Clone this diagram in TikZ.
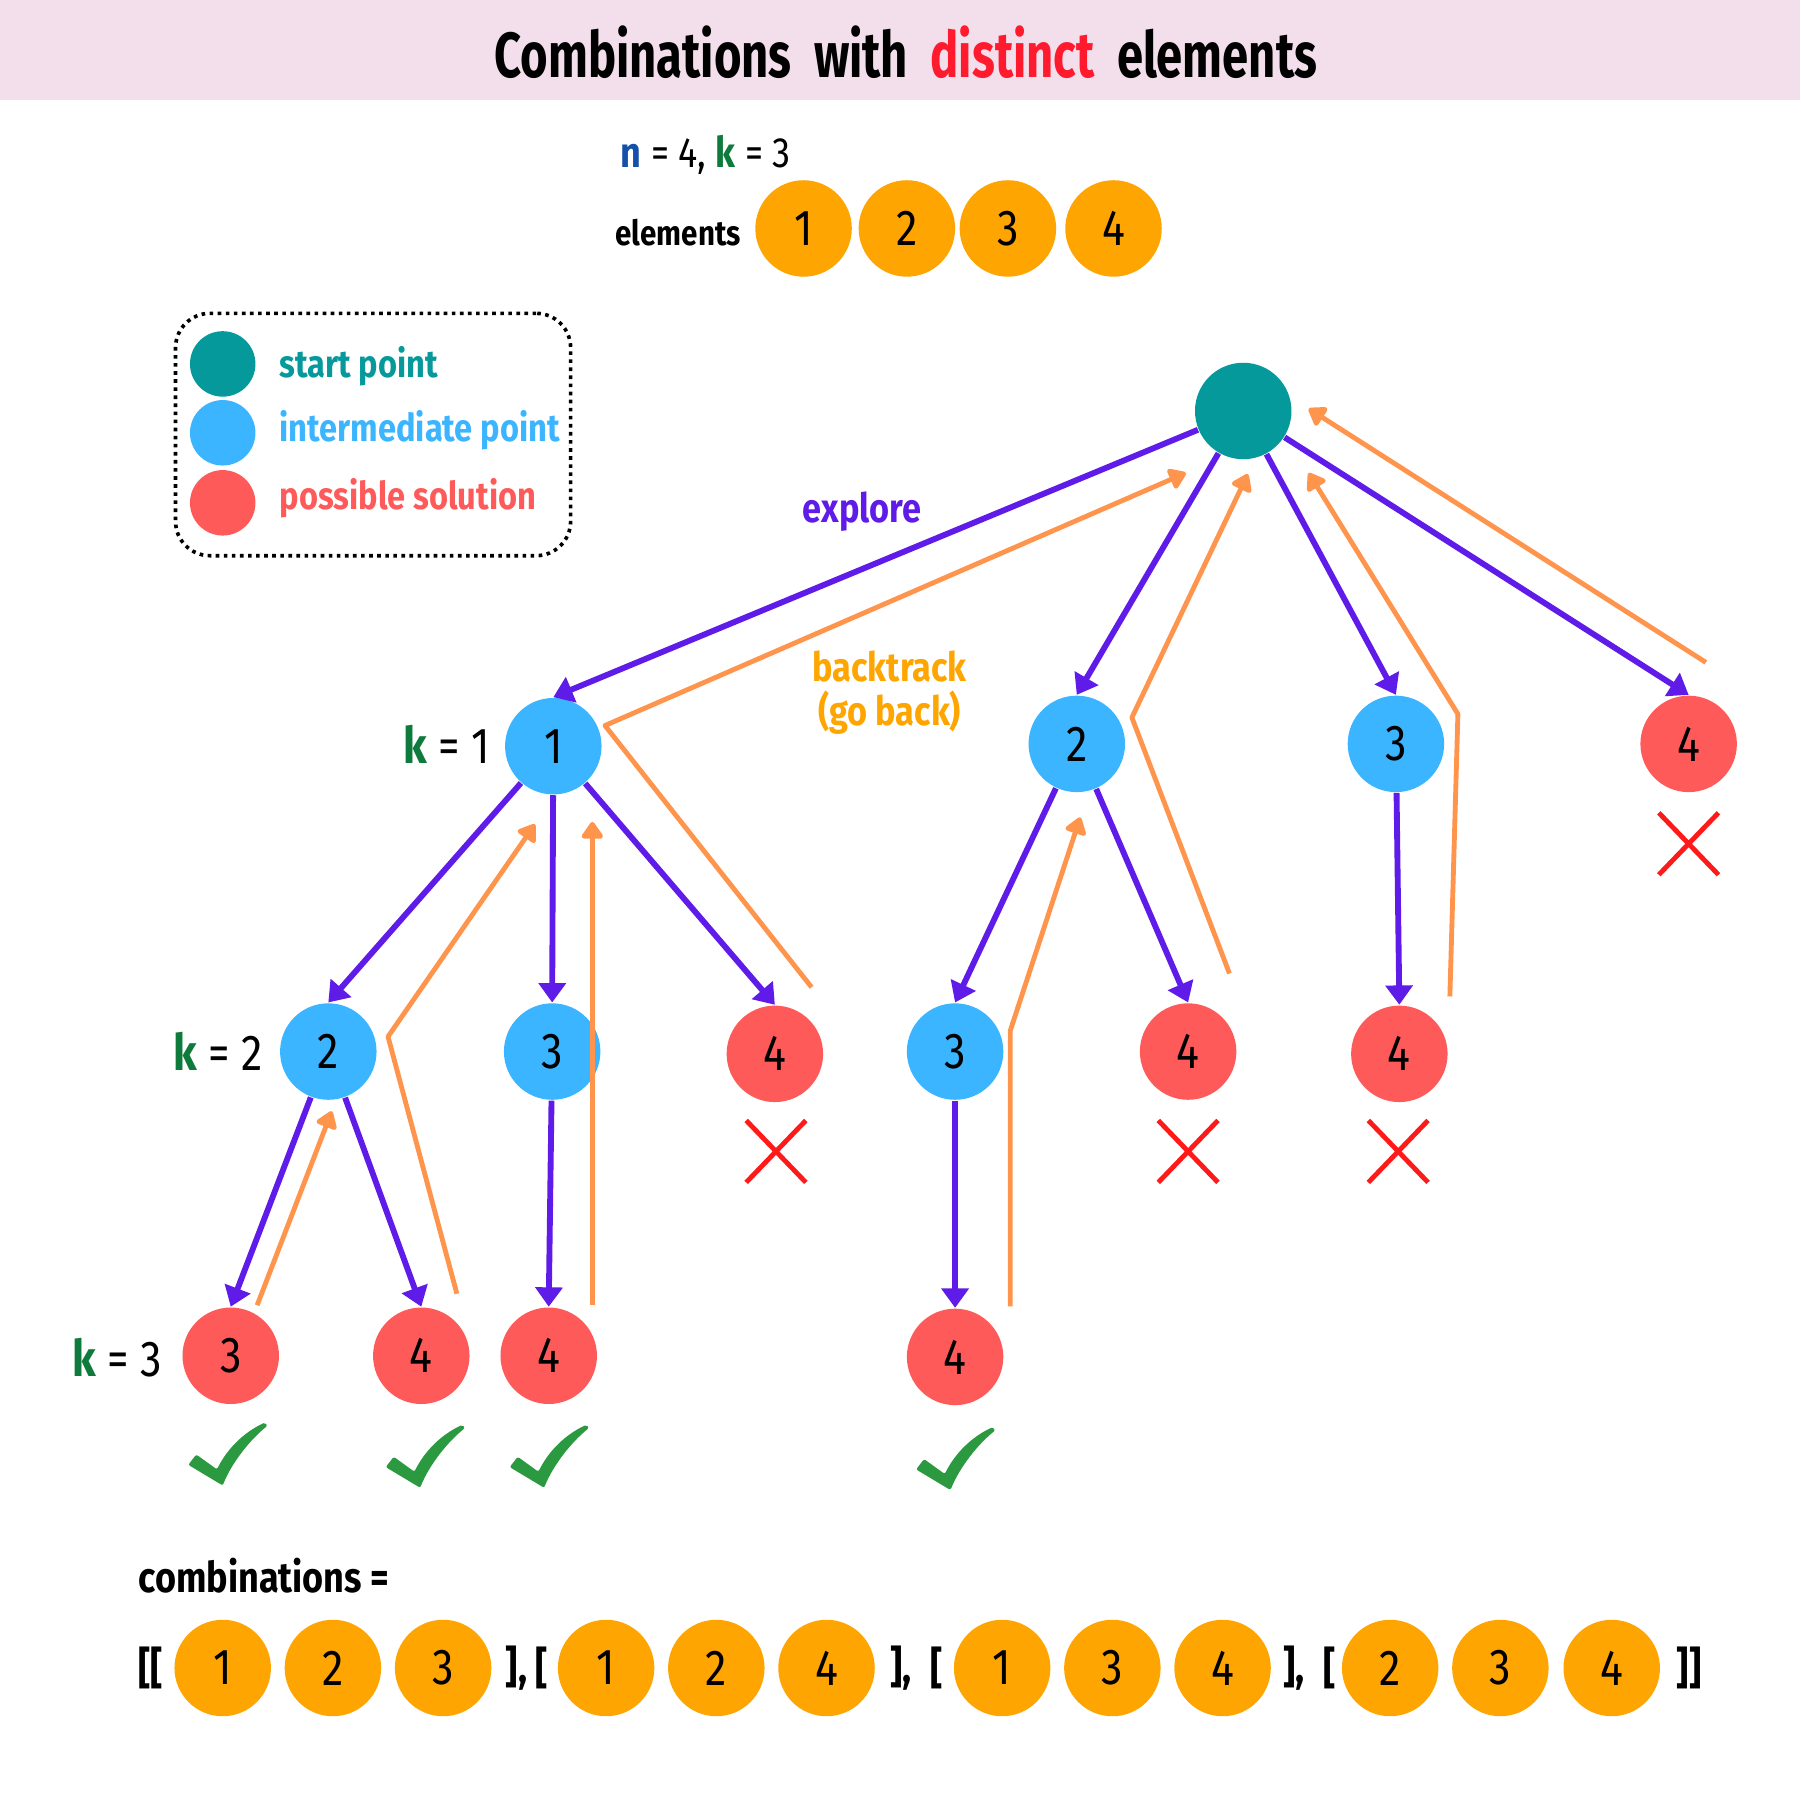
\documentclass[tikz,border=0pt]{standalone}
\usepackage{fontspec}
\setmainfont{Fira Sans}[FakeStretch=0.85]
\newfontfamily\titlefont{Fira Sans}[FakeStretch=0.74]
\usetikzlibrary{arrows.meta,positioning}

\definecolor{bandpink}{HTML}{F3DFEB}
\definecolor{titlered}{HTML}{FF1A2E}
\definecolor{startc}{HTML}{05999C}
\definecolor{midc}{HTML}{3BB5FF}
\definecolor{solc}{HTML}{FF5A5A}
\definecolor{elemc}{HTML}{FFA502}
\definecolor{explorec}{HTML}{5F1BE8}
\definecolor{backc}{HTML}{FF944D}
\definecolor{backtxt}{HTML}{FFA500}
\definecolor{crossc}{HTML}{FF1A1A}
\definecolor{tickc}{HTML}{2A9940}
\definecolor{kgreen}{HTML}{0E7A3C}
\definecolor{nblue}{HTML}{1550A8}

\tikzset{
  dot/.style={circle, minimum size=0.84cm, inner sep=0pt, font=\fontsize{12.5}{14}\selectfont},
  startpt/.style={dot, fill=startc},
  midpt/.style={dot, fill=midc},
  solpt/.style={dot, fill=solc},
  elem/.style={dot, fill=elemc},
  legdot/.style={circle, minimum size=0.57cm, inner sep=0pt},
  legendbox/.style={draw, line width=0.9pt, dash pattern=on 0.9pt off 1.1pt, rounded corners=0.3cm,
    minimum width=3.44cm, minimum height=2.11cm},
  legendtxt/.style={anchor=west, inner sep=0pt, font=\bfseries\fontsize{9.5}{11}\selectfont},
  explore/.style={draw=explorec, line width=1.45pt, -{Triangle[length=4.8pt,width=6.6pt]}},
  backtrack/.style={draw=backc, line width=1.2pt, line join=round, -{Triangle[length=4.6pt,width=6pt,round]}},
  ktxt/.style={font=\fontsize{12.5}{14}\selectfont},
  brk/.style={anchor=west, inner sep=0pt, font=\bfseries\fontsize{11}{13}\selectfont},
  tickmark/.pic={\fill[tickc, rounded corners=0.5pt] (-34,8) -- (-27,-1) -- (-9,12)
    .. controls (0,-6) and (14,-20) .. (33,-29) -- (35,-26)
    .. controls (20,-14) and (4,6) .. (-4,26) -- cycle;},
  crossmark/.pic={\draw[crossc, line width=1.2pt] (-26,-27) -- (26,27) (-26,27) -- (26,-27);}
}

\begin{document}
\begin{tikzpicture}[x=0.01cm, y=-0.01cm]
  \useasboundingbox (0,0) rectangle (1568,1568);
  % title band
  \fill[bandpink] (0,0) rectangle (1568,87);
  \node[font={\titlefont\bfseries\fontsize{15.8}{18}\selectfont}] (title) at (789,45)
    {Combinations\ \ with\ \ \textcolor{titlered}{distinct}\ \ elements};
  %
  \node[anchor=west, inner sep=0pt, font=\fontsize{10.5}{12}\selectfont] (nk) at (540,135)
    {\textcolor{nblue}{\bfseries n} = 4, \textcolor{kgreen}{\bfseries k} = 3};
  \node[anchor=east, inner sep=0pt, font=\bfseries\fontsize{8.6}{10}\selectfont] (elemlbl) at (646,203) {elements};
  \node[elem] (e1) at (700,199) {1};
  \node[elem] (e2) at (790,199) {2};
  \node[elem] (e3) at (878,199) {3};
  \node[elem] (e4) at (970,199) {4};
  %
  % legend
  \node[legendbox] (legend) at (325,378.5) {};
  \node[legdot, fill=startc] (lgstart) at (194,317) {};
  \node[legdot, fill=midc] (lgmid) at (194,377) {};
  \node[legdot, fill=solc] (lgsol) at (194,438) {};
  \node[legendtxt, text=startc] (lgstarttxt) at (243,319) {start point};
  \node[legendtxt, text=midc] (lgmidtxt) at (243,375) {intermediate point};
  \node[legendtxt, text=solc] (lgsoltxt) at (243,434) {possible solution};
  %
  % tree
  \node[startpt] (root) at (1083,358) {};
  \node[midpt] (a1) at (482,650) {1};
  \node[midpt] (a2) at (938,648) {2};
  \node[midpt] (a3) at (1216,648) {3};
  \node[solpt] (a4) at (1471,648) {4};
  \node[midpt] (b12) at (286,916) {2};
  \node[midpt] (b13) at (481,916) {3};
  \node[solpt] (b14) at (675,918) {4};
  \node[midpt] (b23) at (832,916) {3};
  \node[solpt] (b24) at (1035,916) {4};
  \node[solpt] (b34) at (1219,918) {4};
  \node[solpt] (c123) at (201,1181) {3};
  \node[solpt] (c124) at (367,1181) {4};
  \node[solpt] (c134) at (478,1181) {4};
  \node[solpt] (c234) at (832,1182) {4};
  %
  \node[ktxt] (k1) at (389,648) {\textcolor{kgreen}{\bfseries k} = 1};
  \node[ktxt] (k2) at (190,916) {\textcolor{kgreen}{\bfseries k} = 2};
  \node[ktxt] (k3) at (102,1183) {\textcolor{kgreen}{\bfseries k} = 3};
  \node[text=explorec, font=\bfseries\fontsize{10}{12}\selectfont] (explorelbl) at (751,446) {explore};
  \node[text=backtxt, font=\bfseries\fontsize{10}{12}\selectfont] (btlbl) at (775,581) {backtrack};
  \node[text=backtxt, font=\bfseries\fontsize{10}{12}\selectfont, below=-5pt of btlbl] (golbl) {(go back)};
  %
  % explore
  \draw[explore] (root) -- (a1.north);
  \draw[explore] (root) -- (a2.north);
  \draw[explore] (root) -- (a3.north);
  \draw[explore] (root) -- (a4.north);
  \draw[explore] (a1) -- (b12.north);
  \draw[explore] (a1) -- (b13.north);
  \draw[explore] (a1) -- (b14.north);
  \draw[explore] (a2) -- (b23.north);
  \draw[explore] (a2) -- (b24.north);
  \draw[explore] (a3) -- (b34.north);
  \draw[explore] (b12) -- (c123.north);
  \draw[explore] (b12) -- (c124.north);
  \draw[explore] (b13) -- (c134.north);
  \draw[explore] (b23) -- (c234.north);
  %
  % backtrack
  \draw[backtrack] ([shift={(32,-58)}]b14.center) -- ([shift={(45,-18)}]a1.center) -- ([shift={(-50,54)}]root.center);
  \draw[backtrack] ([shift={(15,-71)}]a4.center) -- ([shift={(57,-2)}]root.center);
  \draw[backtrack] ([shift={(36,-68)}]b24.center) -- ([shift={(48,-23)}]a2.center) -- ([shift={(4,55)}]root.center);
  \draw[backtrack] ([shift={(44,-50)}]b34.center) -- ([shift={(54,-26)}]a3.center) -- ([shift={(57,54)}]root.center);
  \draw[backtrack] ([shift={(23,-44)}]c123.center) -- ([shift={(3,52)}]b12.center);
  \draw[backtrack] ([shift={(31,-54)}]c124.center) -- ([shift={(52,-13)}]b12.center) -- ([shift={(-16,68)}]a1.center);
  \draw[backtrack] ([shift={(38,-44)}]c134.center) -- ([shift={(34,66)}]a1.center);
  \draw[backtrack] ([shift={(48,-44)}]c234.center) -- ([shift={(48,-18)}]b23.center) -- ([shift={(3,64)}]a2.center);
  %
  % marks
  \pic at (1471,735) {crossmark};
  \pic at (676,1003) {crossmark};
  \pic at (1035,1003) {crossmark};
  \pic at (1218,1003) {crossmark};
  \pic at (198,1268) {tickmark};
  \pic at (370,1270) {tickmark};
  \pic at (478,1270) {tickmark};
  \pic at (832,1272) {tickmark};
  %
  % result
  \node[anchor=west, inner sep=0pt, font=\bfseries\fontsize{10.5}{12}\selectfont] (comblbl) at (120,1373) {combinations =};
  \node[brk] (br0) at (120,1453) {[[};
  \node[elem] (r11) at (194,1453) {1};
  \node[elem] (r12) at (290,1453) {2};
  \node[elem] (r13) at (386,1453) {3};
  \node[brk] (br1) at (440,1453) {],};
  \node[brk] (br1o) at (466,1453) {[};
  \node[elem] (r21) at (528,1453) {1};
  \node[elem] (r22) at (624,1453) {2};
  \node[elem] (r23) at (720,1453) {4};
  \node[brk] (br2) at (775,1453) {],};
  \node[brk] (br2o) at (810,1453) {[};
  \node[elem] (r31) at (873,1453) {1};
  \node[elem] (r32) at (969,1453) {3};
  \node[elem] (r33) at (1065,1453) {4};
  \node[brk] (br3) at (1117,1453) {],};
  \node[brk] (br3o) at (1152,1453) {[};
  \node[elem] (r41) at (1211,1453) {2};
  \node[elem] (r42) at (1307,1453) {3};
  \node[elem] (r43) at (1404,1453) {4};
  \node[brk] (br4) at (1460,1453) {]]};
\end{tikzpicture}
\end{document}
